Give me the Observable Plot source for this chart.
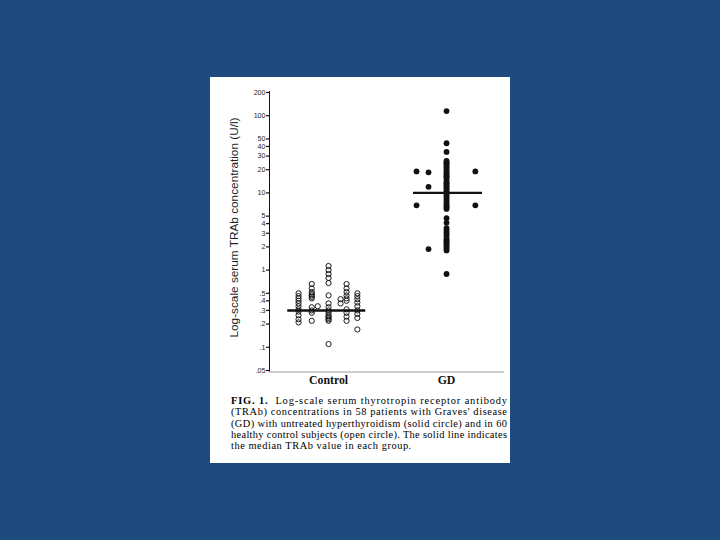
<!DOCTYPE html>
<html><head><meta charset="utf-8">
<script src="https://cdn.jsdelivr.net/npm/d3@7"></script>
<script src="https://cdn.jsdelivr.net/npm/@observablehq/plot@0.6"></script>
<style>
html,body{margin:0;padding:0;background:#1f4a7d;width:720px;height:540px;overflow:hidden}
#panel{position:absolute;left:210px;top:77px;width:300px;height:386px;background:#fff}
#chart{position:absolute;left:0;top:0}
#caption{position:absolute;left:21px;top:318px;width:276px;font-family:"Liberation Serif",serif;font-size:10.4px;line-height:11.3px;color:#000}
#caption div{white-space:nowrap}
#caption span{display:inline-block}
</style></head><body>
<div id="panel"><div id="chart"></div>
<div id="caption">
<div><span><b>FIG. 1.</b>&nbsp; Log-scale serum thyrotropin receptor antibody</span></div>
<div><span>(TRAb) concentrations in 58 patients with Graves' disease</span></div>
<div><span>(GD) with untreated hyperthyroidism (solid circle) and in 60</span></div>
<div><span>healthy control subjects (open circle). The solid line indicates</span></div>
<div class="last"><span>the median TRAb value in each group.</span></div>
</div></div>
<script>
// ---- data ----
const groups = ["Control", "GD"];
const yTicks = [200, 100, 50, 40, 30, 20, 10, 5, 4, 3, 2, 1, 0.5, 0.4, 0.3, 0.2, 0.1, 0.05];
const yTickLabels = ["200","100","50","40","30","20","10","5","4","3","2","1",".5",".4",".3",".2",".1",".05"];
const yLabel = "Log-scale serum TRAb concentration (U/l)";

// Control (open circles), by visual column, left to right
const controlCol1 = [0.5, 0.46, 0.43, 0.4, 0.37, 0.34, 0.31, 0.29, 0.26, 0.23, 0.21];
const controlCol2 = [0.66, 0.58, 0.52, 0.49, 0.47, 0.45, 0.43, 0.33, 0.3, 0.28, 0.22];
const controlCol3 = [0.34];
const controlCol4 = [1.13, 1.0, 0.89, 0.79, 0.68, 0.47, 0.37, 0.33, 0.3, 0.28, 0.26, 0.25, 0.24, 0.23, 0.22, 0.11];
const controlCol5 = [0.42, 0.37];
const controlCol6 = [0.66, 0.58, 0.52, 0.47, 0.43, 0.4, 0.31, 0.28, 0.25, 0.22];
const controlCol7 = [0.5, 0.46, 0.42, 0.38, 0.34, 0.3, 0.27, 0.24, 0.17];

// GD (solid circles), by visual column, left to right
const gdCol1 = [19, 6.9];
const gdCol2 = [18.5, 12, 1.87];
const gdCol3 = [115, 44, 34,
  26, 25, 24, 23, 22, 21, 20, 19, 18, 17, 16.5, 16, 15, 14, 13.5, 13, 12.5, 12, 11.5, 11, 10.5, 10,
  10, 9.5, 9, 8.5, 8, 7.5, 7, 6.8, 6.5, 6.2, 4.7, 4.1, 3.5, 3.3, 3.1, 2.9, 2.7, 2.5, 2.4, 2.3, 2.2, 2.1, 2.0, 1.9, 1.8,
  0.89];
const gdCol4 = [19, 6.9];

const medians = [0.3, 10];

// ---- layout (x in column-spacing units, ~12px each) ----
const groupCenter = {Control: 4.92, GD: 14.75};
const controlOffsets = [-2.5, -1.4, -0.9, 0, 1.0, 1.5, 2.4];
const gdOffsets = [-2.5, -1.5, 0, 2.4];
const medianSpan = {Control: [-3.4, 3.1], GD: [-2.75, 3.0]};
const tickLen = 0.25;

const controlCols = [controlCol1, controlCol2, controlCol3, controlCol4, controlCol5, controlCol6, controlCol7];
const gdCols = [gdCol1, gdCol2, gdCol3, gdCol4];
const control = controlCols.flatMap((col, i) => col.map(v => ({x: groupCenter.Control + controlOffsets[i], y: v})));
const gd = gdCols.flatMap((col, i) => col.map(v => ({x: groupCenter.GD + gdOffsets[i], y: v})));
const medianRows = groups.map((g, i) => ({g, y: medians[i], x1: groupCenter[g] + medianSpan[g][0], x2: groupCenter[g] + medianSpan[g][1]}));
const labelMap = new Map(yTicks.map((t, i) => [t, yTickLabels[i]]));

const chart = Plot.plot({
  width: 300, height: 312,
  marginLeft: 59, marginRight: 6, marginTop: 15, marginBottom: 19,
  x: {domain: [0, 19.58], axis: null},
  y: {type: "log", domain: [0.05, 200], axis: null},
  style: {background: "transparent", color: "#111"},
  marks: [
    Plot.ruleY([0.05], {stroke: "#9a9a9a", strokeWidth: 1, dy: 1.5}),
    Plot.ruleX([0], {y1: 0.05, y2: 215, stroke: "#111", strokeWidth: 1, dy: 1.5}),
    Plot.ruleY(yTicks, {y: d => d, x1: -tickLen, x2: 0, stroke: "#111", strokeWidth: 1.2}),
    Plot.text(yTicks, {y: d => d, frameAnchor: "left", text: d => labelMap.get(d), textAnchor: "end", dx: -4,
      fontSize: 7.1, fontFamily: "Liberation Sans, Arial, sans-serif", fill: "#222"}),
    Plot.dot(control, {x: "x", y: "y", r: 2.6, stroke: "#1a1a1a", strokeWidth: 1, fill: "none"}),
    Plot.dot(gd, {x: "x", y: "y", r: 2.9, fill: "#111", stroke: "none"}),
    Plot.ruleY(medianRows, {y: "y", x1: "x1", x2: "x2", stroke: "#111", strokeWidth: 2.4}),
    Plot.text(groups, {x: d => groupCenter[d], y: () => 0.05, text: d => d, dy: 10, lineAnchor: "middle",
      fontFamily: "Liberation Serif, Times New Roman, serif", fontWeight: "bold", fontSize: 11.8, fill: "#111"}),
    Plot.text([yLabel], {frameAnchor: "left", text: d => d, rotate: -90, textAnchor: "middle", dx: -35, dy: -4, lineAnchor: "middle",
      fontFamily: "Liberation Sans, Arial, sans-serif", fontSize: 11.8, fill: "#222"})
  ]
});
document.getElementById("chart").appendChild(chart);

// fit each caption line (except the last) to the full width, like justified print
const capWidth = 276;
const lines = [...document.querySelectorAll("#caption span")];
let spacings = [];
lines.forEach((s, i) => {
  if (i === lines.length - 1) return;
  const w = s.getBoundingClientRect().width;
  const n = s.textContent.length - 1;
  const ls = (capWidth - w) / n;
  s.style.letterSpacing = ls + "px";
  spacings.push(ls);
});
lines[lines.length - 1].style.letterSpacing = d3.mean(spacings) + "px";
</script>
</body></html>
